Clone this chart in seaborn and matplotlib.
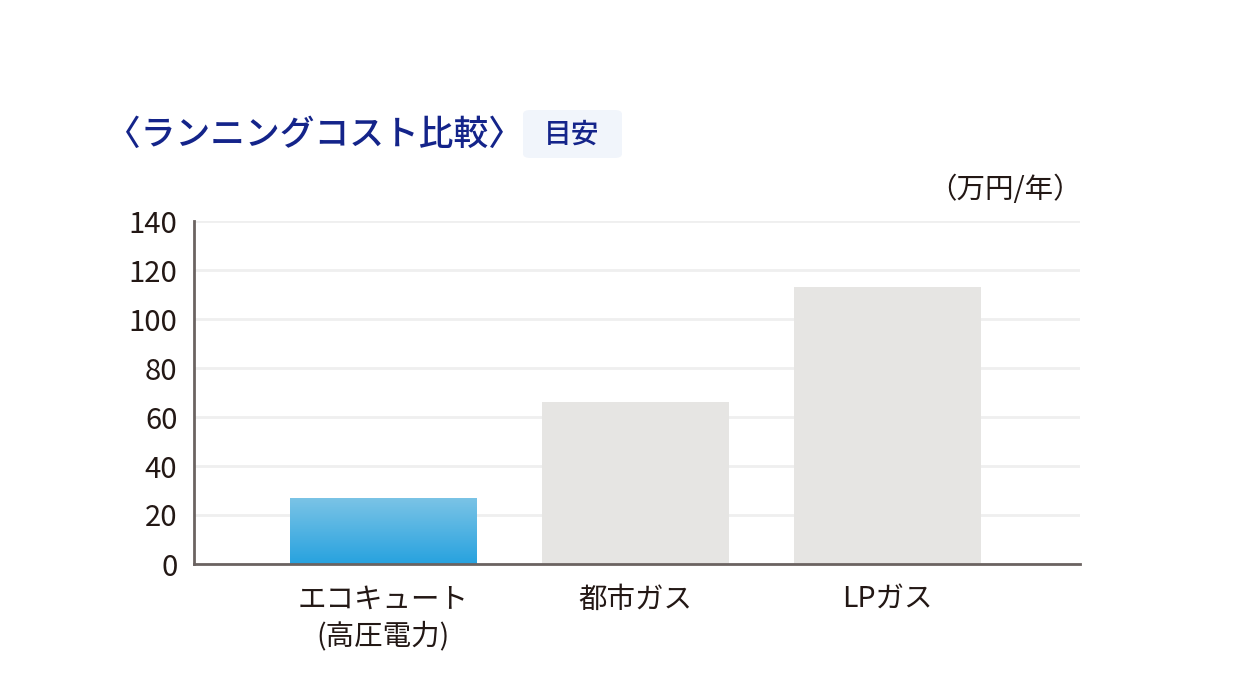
import numpy as np
import pandas as pd
import matplotlib
matplotlib.use("Agg")
import matplotlib.pyplot as plt
import seaborn as sns
from matplotlib.patches import FancyBboxPatch
from matplotlib.colors import LinearSegmentedColormap

# ---- data ----
categories = ["エコキュート\n(高圧電力)", "都市ガス", "LPガス"]
costs = [27, 66, 113]
yticks = [0, 20, 40, 60, 80, 100, 120, 140]
title_text = "〈ランニングコスト比較〉"
badge_text = "目安"
unit_text = "（万円/年）"

sns.set_theme(style="white")
plt.rcParams["font.family"] = ["Noto Sans CJK JP", "DejaVu Sans"]

df = pd.DataFrame({"cat": categories, "cost": costs})

fig = plt.figure(figsize=(12.4, 6.98), dpi=100)
fig.patch.set_facecolor("white")
ax = fig.add_axes([194/1240, 1-564/698, (1080-194)/1240, (564-221)/698])

sns.barplot(data=df, x="cat", y="cost", ax=ax, width=0.74,
            palette=["#2ba3de", "#e6e5e3", "#e6e5e3"], hue="cat", legend=False,
            saturation=1, linewidth=0, zorder=3)

ax.set_ylim(0, 140)
ax.set_xlim(-0.752, 2.764)
ax.set_yticks(yticks)
ax.set_xlabel("")
ax.set_ylabel("")

# gradient on first bar
bar0 = ax.patches[0]
x0, y0 = bar0.get_x(), bar0.get_y()
w, h = bar0.get_width(), bar0.get_height()
cmap = LinearSegmentedColormap.from_list("eco", ["#27a2df", "#7cc4e6"])
grad = np.linspace(0, 1, 256).reshape(-1, 1)
im = ax.imshow(grad, cmap=cmap, aspect="auto", origin="lower",
               extent=[x0, x0 + w, y0, y0 + h], zorder=4)
im.set_clip_path(bar0)
ax.set_xlim(-0.752, 2.764)
ax.set_ylim(0, 140)

ax.yaxis.grid(True, color="#efefef", linewidth=2, zorder=0)
ax.xaxis.grid(False)
for s in ["top", "right"]:
    ax.spines[s].set_visible(False)
for s in ["left", "bottom"]:
    ax.spines[s].set_color("#6b6361")
    ax.spines[s].set_linewidth(2)
    ax.spines[s].set_zorder(5)

ax.tick_params(axis="y", length=0, pad=12, labelsize=21, labelcolor="#231815")
ax.tick_params(axis="x", length=0, pad=15, labelsize=20.5, labelcolor="#231815")
for lbl in ax.get_xticklabels():
    lbl.set_linespacing(1.3)
    lbl.set_verticalalignment("top")

# title
fig.text(106/1240, 1-135/698, title_text, color="#14248a", fontsize=25,
         fontweight="medium", ha="left", va="center")
# badge
badge = FancyBboxPatch((523/1240, 1-158/698), 99/1240, 48/698,
                       boxstyle="round,pad=0,rounding_size=0.006",
                       transform=fig.transFigure, facecolor="#f1f5fb",
                       edgecolor="none")
fig.patches.append(badge)
fig.text(572/1240, 1-134/698, badge_text, color="#14248a", fontsize=20,
         fontweight="medium", ha="center", va="center")
# unit
fig.text(1082/1240, 1-190/698, unit_text, color="#231815", fontsize=20.5,
         ha="right", va="center")

fig.savefig("out.png", dpi=100, facecolor="white")
